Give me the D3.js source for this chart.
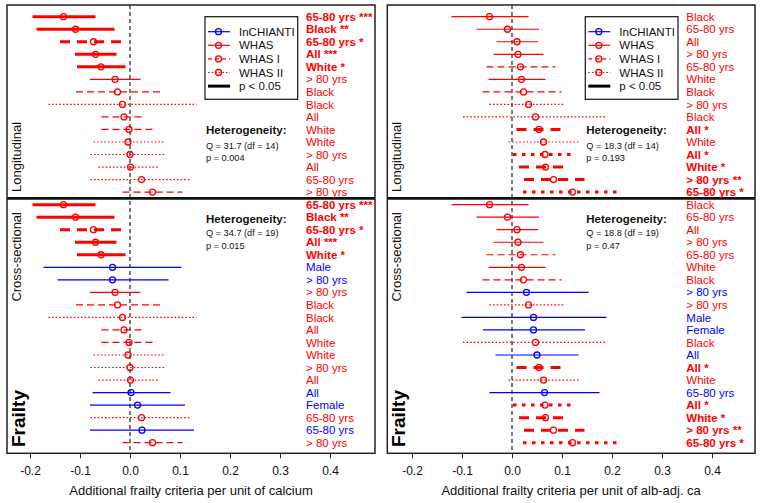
<!DOCTYPE html>
<html><head><meta charset="utf-8">
<script src="https://cdn.jsdelivr.net/npm/d3@7"></script>
<style>body{margin:0;background:#fff} text{font-family:"Liberation Sans",Arial,sans-serif}</style>
</head><body><svg id="c" width="762" height="503"></svg>
<script>
const sectionNames = ["Longitudinal", "Cross-sectional"];
const sectionSizes = [15, 20];
const xTicks = [-0.2, -0.1, 0, 0.1, 0.2, 0.3, 0.4];
const tickLabels = ["-0.2", "-0.1", "0.0", "0.1", "0.2", "0.3", "0.4"];
const cohorts = ["InCHIANTI", "WHAS", "WHAS I", "WHAS II"];
const cohortColors = ["#0000ff", "#ff0000", "#ff0000", "#ff0000"];
const legendLabels = ["InCHIANTI", "WHAS", "WHAS I", "WHAS II", "p < 0.05"];

// Panel 1: per unit of calcium
const caTitle = "Additional frailty criteria per unit of calcium";
const caLabels = ["65-80 yrs","Black","65-80 yrs","All","White","> 80 yrs","Black","Black","All","White","White","> 80 yrs","All","65-80 yrs","> 80 yrs",
  "65-80 yrs","Black","65-80 yrs","All","White","Male","> 80 yrs","> 80 yrs","Black","Black","All","White","White","> 80 yrs","All","All","Female","65-80 yrs","65-80 yrs","> 80 yrs"];
const caCohort = [1,1,2,1,1,1,2,3,2,2,3,3,3,3,2,
  1,1,2,1,1,0,0,1,2,3,2,2,3,3,3,0,0,3,0,2];
const caEst = [-0.133,-0.109,-0.073,-0.069,-0.058,-0.030,-0.025,-0.015,-0.012,-0.002,-0.004,0.000,0.001,0.023,0.045,
  -0.133,-0.109,-0.073,-0.069,-0.058,-0.035,-0.035,-0.030,-0.025,-0.015,-0.012,-0.002,-0.004,0.000,0.001,0.002,0.015,0.023,0.024,0.045];
const caLo = [-0.195,-0.187,-0.140,-0.110,-0.106,-0.080,-0.108,-0.163,-0.057,-0.057,-0.073,-0.079,-0.063,-0.079,-0.015,
  -0.195,-0.187,-0.140,-0.110,-0.106,-0.173,-0.145,-0.080,-0.108,-0.163,-0.057,-0.057,-0.073,-0.079,-0.063,-0.075,-0.080,-0.079,-0.080,-0.015];
const caHi = [-0.069,-0.031,-0.010,-0.027,-0.009,0.021,0.060,0.133,0.027,0.045,0.067,0.071,0.059,0.120,0.105,
  -0.069,-0.031,-0.010,-0.027,-0.009,0.103,0.077,0.021,0.060,0.133,0.027,0.045,0.067,0.071,0.059,0.081,0.110,0.120,0.128,0.105];
const caStars = ["***","**","*","***","*","","","","","","","","","","",
  "***","**","*","***","*","","","","","","","","","","","","","","",""];
const caHet = [["Q = 31.7 (df = 14)", "p = 0.004"], ["Q = 34.7 (df = 19)", "p = 0.015"]];

// Panel 2: per unit of albumin-adjusted calcium
const abTitle = "Additional frailty criteria per unit of alb-adj. ca";
const abLabels = ["Black","65-80 yrs","All","> 80 yrs","65-80 yrs","White","Black","> 80 yrs","Black","All","White","All","White","> 80 yrs","65-80 yrs",
  "Black","65-80 yrs","All","> 80 yrs","65-80 yrs","White","Black","> 80 yrs","> 80 yrs","Male","Female","Black","All","All","White","65-80 yrs","All","White","> 80 yrs","65-80 yrs"];
const abCohort = [1,1,1,1,2,1,2,3,3,2,3,3,2,2,3,
  1,1,1,1,2,1,2,0,3,0,0,3,0,2,3,0,3,2,2,3];
const abEst = [-0.045,-0.009,0.010,0.012,0.017,0.019,0.023,0.033,0.047,0.054,0.063,0.066,0.067,0.083,0.121,
  -0.045,-0.009,0.010,0.012,0.017,0.019,0.023,0.029,0.033,0.043,0.043,0.047,0.050,0.054,0.063,0.065,0.066,0.067,0.083,0.121];
const abLo = [-0.121,-0.071,-0.031,-0.037,-0.051,-0.047,-0.059,-0.045,-0.098,0.009,-0.007,0.002,0.014,0.024,0.022,
  -0.121,-0.071,-0.031,-0.037,-0.051,-0.047,-0.059,-0.091,-0.045,-0.101,-0.058,-0.098,-0.033,0.009,-0.007,-0.045,0.002,0.014,0.024,0.022];
const abHi = [0.033,0.054,0.052,0.063,0.087,0.067,0.099,0.106,0.190,0.099,0.134,0.121,0.104,0.145,0.212,
  0.033,0.054,0.052,0.063,0.087,0.067,0.099,0.153,0.106,0.189,0.146,0.190,0.133,0.099,0.134,0.175,0.121,0.104,0.145,0.212];
const abStars = ["","","","","","","","","","*","","*","*","**","*",
  "","","","","","","","","","","","","","*","","","*","*","**","*"];
const abHet = [["Q = 18.3 (df = 14)", "p = 0.193"], ["Q = 18.8 (df = 19)", "p = 0.47"]];

const panels = [
  {left: 7, right: 375, range: [30, 330], title: caTitle, labels: caLabels, cohort: caCohort, est: caEst, lo: caLo, hi: caHi, stars: caStars, het: caHet},
  {left: 387.3, right: 755, range: [412, 712], title: abTitle, labels: abLabels, cohort: abCohort, est: abEst, lo: abLo, hi: abHi, stars: abStars, het: abHet}
];

const svg = d3.select("#c");
const yTop = 5, yBot = 453.3;
const nRows = sectionSizes[0] + sectionSizes[1];
const y = d3.scaleLinear().domain([0, nRows - 1]).range([16.7, 442.7]);

function dashFor(c, bold) {
  if (c === 2) return bold ? "10 7" : "7 4";
  if (c === 3) return bold ? "3.5 5.5" : "1.6 2";
  return null;
}

panels.forEach(p => {
  const g = svg.append("g");
  const x = d3.scaleLinear().domain([-0.2, 0.4]).range(p.range);
  const L = p.left;

  g.append("line").attr("x1", x(0)).attr("x2", x(0)).attr("y1", yTop).attr("y2", yBot)
    .attr("stroke", "#333").attr("stroke-width", 1.3).attr("stroke-dasharray", "4 3");

  const divY = (y(sectionSizes[0] - 1) + y(sectionSizes[0])) / 2;
  g.append("line").attr("x1", L).attr("x2", p.right).attr("y1", divY).attr("y2", divY)
    .attr("stroke", "#111").attr("stroke-width", 2.6);

  const rows = p.labels.map((lab, i) => ({i, lab, c: p.cohort[i], est: p.est[i], lo: p.lo[i], hi: p.hi[i], st: p.stars[i]}));
  const rg = g.selectAll("g.row").data(rows).enter().append("g").attr("class", "row");
  rg.append("line")
    .attr("x1", d => x(d.lo)).attr("x2", d => x(d.hi))
    .attr("y1", d => y(d.i)).attr("y2", d => y(d.i))
    .attr("stroke", d => cohortColors[d.c])
    .attr("stroke-width", d => d.st ? 3 : 1.2)
    .attr("stroke-dasharray", d => dashFor(d.c, !!d.st));
  rg.append("circle")
    .attr("cx", d => x(d.est)).attr("cy", d => y(d.i)).attr("r", 3)
    .attr("fill", "none").attr("stroke", d => cohortColors[d.c]).attr("stroke-width", 1.3);
  rg.append("text")
    .attr("x", L + 299).attr("y", d => y(d.i)).attr("dy", "0.36em")
    .attr("font-size", 11.5)
    .attr("font-weight", d => d.st ? "bold" : "normal")
    .attr("fill", d => cohortColors[d.c])
    .text(d => d.st ? d.lab + " " + d.st : d.lab);

  const hetY = [[130, 145.4, 157.8], [219, 232.7, 246]];
  p.het.forEach((h, s) => {
    g.append("text").attr("x", L + 199).attr("y", hetY[s][0]).attr("dy", "0.36em")
      .attr("font-size", 11.5).attr("font-weight", "bold").attr("fill", "#111").text("Heterogeneity:");
    g.append("text").attr("x", L + 199).attr("y", hetY[s][1]).attr("dy", "0.36em")
      .attr("font-size", 9.2).attr("fill", "#111").text(h[0]);
    g.append("text").attr("x", L + 199).attr("y", hetY[s][2]).attr("dy", "0.36em")
      .attr("font-size", 9.2).attr("fill", "#111").text(h[1]);
  });

  const lg = g.append("g").attr("transform", `translate(${L + 198},16.7)`);
  lg.append("rect").attr("x", 0).attr("y", 0).attr("width", 92.7).attr("height", 82.6)
    .attr("fill", "#fff").attr("stroke", "#111").attr("stroke-width", 1.2);
  legendLabels.forEach((lab, k) => {
    const ly = 15 + 13.6 * k;
    const isSig = k === 4;
    const col = isSig ? "#000" : cohortColors[k];
    lg.append("line").attr("x1", 3).attr("x2", 25).attr("y1", ly).attr("y2", ly)
      .attr("stroke", col).attr("stroke-width", isSig ? 3 : 1.2)
      .attr("stroke-dasharray", k === 2 ? "4 3" : (k === 3 ? "1.6 2" : null));
    if (!isSig) lg.append("circle").attr("cx", 13.5).attr("cy", ly).attr("r", 3)
      .attr("fill", "none").attr("stroke", col).attr("stroke-width", 1.3);
    lg.append("text").attr("x", 34).attr("y", ly).attr("dy", "0.36em")
      .attr("font-size", 11.5).attr("fill", "#111").text(lab);
  });

  g.append("text").attr("transform", `translate(${L + 13.8},192) rotate(-90)`)
    .attr("font-size", 13).attr("fill", "#111").text(sectionNames[0]);
  g.append("text").attr("transform", `translate(${L + 13.8},212) rotate(-90)`)
    .attr("text-anchor", "end").attr("font-size", 13).attr("fill", "#111").text(sectionNames[1]);
  g.append("text").attr("transform", `translate(${L + 18},447) rotate(-90)`)
    .attr("font-size", 19).attr("font-weight", "bold").attr("fill", "#000").text("Frailty");

  g.append("rect").attr("x", L).attr("y", yTop).attr("width", p.right - L).attr("height", yBot - yTop)
    .attr("fill", "none").attr("stroke", "#222").attr("stroke-width", 1.5);

  const ax = g.append("g").attr("transform", `translate(0,${yBot})`)
    .call(d3.axisBottom(x).tickValues(xTicks).tickFormat((d, i) => tickLabels[i]).tickSize(5).tickPadding(8));
  ax.select(".domain").remove();
  ax.selectAll("line").attr("stroke", "#222");
  ax.selectAll("text").attr("font-size", 12).attr("fill", "#111")
    .attr("font-family", "'Liberation Sans',Arial,sans-serif");

  g.append("text").attr("x", (L + p.right) / 2).attr("y", 494.5).attr("text-anchor", "middle")
    .attr("font-size", 13).attr("fill", "#111").text(p.title);
});
</script></body></html>
